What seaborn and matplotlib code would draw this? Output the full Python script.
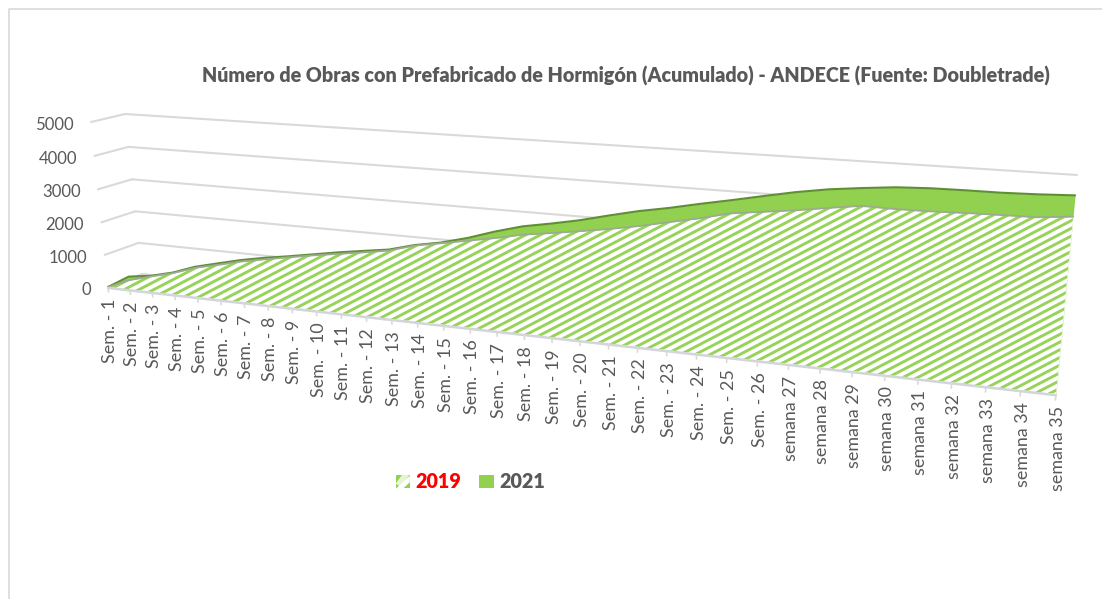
import numpy as np
import matplotlib
matplotlib.use("Agg")
import matplotlib.pyplot as plt
import matplotlib.transforms as mtransforms
from matplotlib.collections import LineCollection
from matplotlib.legend_handler import HandlerBase
from matplotlib.patches import Patch, Polygon, Rectangle
from matplotlib.path import Path
import seaborn as sns

weeks = list(range(1, 36))
labels = [f"Sem. - {i}" for i in range(1, 27)] + [f"semana {i}" for i in range(27, 36)]
values_2019 = [0, 290, 480, 655, 893, 1053, 1225, 1362, 1493, 1619, 1732, 1844, 1966, 2176, 2308, 2449, 2586,
               2745, 2854, 2970, 3093, 3233, 3399, 3561, 3751, 3851, 3949, 4068, 4180, 4165, 4169, 4192, 4207,
               4213, 4290]
values_2021 = [0, 400, 500, 673, 923, 1097, 1269, 1406, 1522, 1648, 1775, 1887, 1994, 2190, 2328, 2523, 2764,
               2970, 3108, 3260, 3448, 3624, 3766, 3930, 4083, 4244, 4400, 4527, 4615, 4690, 4722, 4730, 4730,
               4750, 4784]
y_ticks = [0, 1000, 2000, 3000, 4000, 5000]
title = "Número de Obras con Prefabricado de Hormigón (Acumulado) - ANDECE (Fuente: Doubletrade)"

sns.set_theme(style="white")
plt.rcParams["font.family"] = ["Lato", "DejaVu Sans"]

GREEN = "#92D050"
DARK = "#5F8F33"
TEXT = "#595959"
GRID = "#D9D9D9"


class Projective(mtransforms.Transform):
    input_dims = 2
    output_dims = 2
    is_separable = False
    has_inverse = False

    def __init__(self, src, dst):
        super().__init__()
        a = []
        b = []
        for (x, y), (u, v) in zip(src, dst):
            a.append([x, y, 1, 0, 0, 0, -u * x, -u * y])
            a.append([0, 0, 0, x, y, 1, -v * x, -v * y])
            b += [u, v]
        self.h = np.append(np.linalg.solve(np.array(a, float), np.array(b, float)), 1).reshape(3, 3)

    def transform_non_affine(self, values):
        pts = np.column_stack([np.asarray(values, float), np.ones(len(values))])
        out = pts @ self.h.T
        return out[:, :2] / out[:, 2:]


class StripedSwatch(HandlerBase):
    def create_artists(self, legend, orig_handle, xdescent, ydescent, width, height, fontsize, trans):
        x0, y0 = -xdescent, -ydescent
        base = Rectangle((x0, y0), width, height, facecolor=GREEN, edgecolor="none", transform=trans)
        band = Polygon([(x0 + 0.05 * width, y0), (x0 + width, y0 + 0.95 * height), (x0 + width, y0 + 0.45 * height),
                        (x0 + 0.55 * width, y0)], closed=True, facecolor="white", edgecolor="none", transform=trans)
        band2 = Polygon([(x0 + 0.35 * width, y0 + 0.1 * height), (x0 + 0.95 * width, y0 + height),
                         (x0 + 0.45 * width, y0 + height), (x0, y0 + 0.35 * height)],
                        closed=True, facecolor="#E6F4D6", edgecolor="none", transform=trans)
        return [base, band2, band]


plane = [(1, 0), (35, 0), (1, 5000), (35, 5000)]
front = Projective(plane, [(108, 287), (1056, 394), (91, 122), (1076, 186)])
back = Projective(plane, [(142, 274), (1058, 375), (125, 114), (1077, 175)])

fig = plt.figure(figsize=(11.02, 5.99), dpi=100)
ax = fig.add_axes([0, 0, 1, 1])
T = front + ax.transData
Tb = back + ax.transData

# back wall and side wall gridlines
for v in y_ticks:
    ax.plot([1, 35], [v, v], transform=Tb, color=GRID, lw=1.5, zorder=1)
    p = front.transform(np.array([[1.0, v]]))[0]
    q = back.transform(np.array([[1.0, v]]))[0]
    ax.plot([p[0], q[0]], [p[1], q[1]], color=GRID, lw=1.5, zorder=1)

# 2021 area, behind
ax.fill_between(weeks, 0, values_2021, transform=T, color=GREEN, lw=0, zorder=2)
sns.lineplot(x=weeks, y=values_2021, ax=ax, transform=T, color=DARK, lw=1.5, zorder=3,
             errorbar=None, legend=False)

# 2019 area, white base with stripes
ax.fill_between(weeks, 0, values_2019, transform=T, color="white", lw=0, zorder=4)
outline = np.column_stack([weeks + weeks[::-1], values_2019 + [0] * len(weeks)])
clip = Path(np.vstack([outline, outline[:1]]), closed=True)
stripe_slope = -0.52
offsets = np.arange(0, 1100, 7.7)
stripes = LineCollection([[(0, c), (1102, c + stripe_slope * 1102)] for c in offsets],
                         colors=GREEN, linewidths=2.1, zorder=5, alpha=0.95)
ax.add_collection(stripes)
stripes.set_clip_path(clip, T)
sns.lineplot(x=weeks, y=values_2019, ax=ax, transform=T, color="#9DAA92", lw=1.3, zorder=6,
             errorbar=None, legend=False)

# floor axis and ticks
ax.plot([1, 35], [-30, -30], transform=T, color="#D4D4DC", lw=1.8, zorder=7)
for w, lab in zip(weeks, labels):
    ax.plot([w, w], [-30, -150], transform=T, color=GRID, lw=1.2, zorder=7)
    ax.annotate(lab, xy=(w, 0), xycoords=T, xytext=(1.5, -8.5), textcoords="offset points",
                rotation=90, ha="center", va="top", fontsize=12.9, color=TEXT)

for v in y_ticks:
    ax.annotate(str(v), xy=(1, v), xycoords=T, xytext=(-12.5, -2), textcoords="offset points",
                ha="right", va="center", fontsize=12.1, color=TEXT)

ax.text(202, 76, title, fontsize=14.2, fontweight="heavy", color=TEXT, ha="left", va="center")

striped = Patch(facecolor=GREEN, lw=0)
handles = [striped, Patch(facecolor=GREEN, lw=0)]
leg = ax.legend(handles, ["2019", "2021"], ncol=2, loc="center", bbox_to_anchor=(470.5, 482),
                bbox_transform=ax.transData, frameon=False, handlelength=0.72, handleheight=0.66,
                handletextpad=0.3, columnspacing=0.9, borderpad=0, prop={"size": 14.2, "weight": "heavy"},
                handler_map={striped: StripedSwatch()})
leg.get_texts()[0].set_color("#FF0000")
leg.get_texts()[1].set_color(TEXT)

# chart frame
ax.plot([9, 9, 1102], [599, 9, 9], color=GRID, lw=1.2, zorder=0)

ax.set_xlim(0, 1102)
ax.set_ylim(599, 0)
ax.set_axis_off()
fig.savefig("out.png", dpi=100, facecolor="white")
